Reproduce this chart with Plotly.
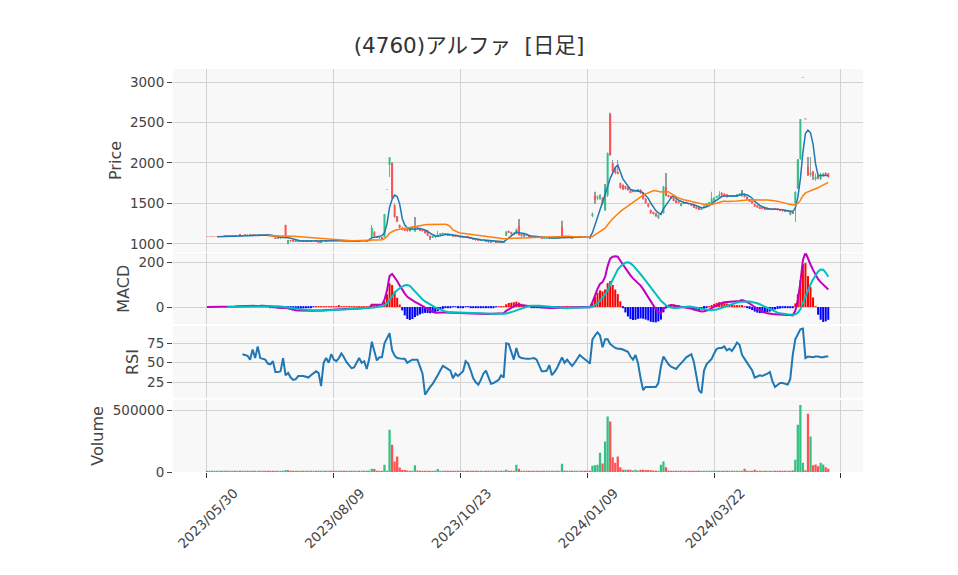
import pandas as pd
import plotly.graph_objects as go
from plotly.subplots import make_subplots

title_text = "(4760)アルファ  [日足]"
tick_pos = [0, 50, 100, 150, 200, 250]
tick_labels = ["2023/05/30", "2023/08/09", "2023/10/23", "2024/01/09", "2024/03/22", ""]

# daily prices (one value per trading day)
opens = [
    1090, 1090, 1090, 1090, 1090, 1090, 1095, 1092, 1100, 1096,
    1100, 1105, 1100, 1117, 1100, 1104, 1110, 1106, 1114, 1105,
    1107, 1118, 1115, 1120, 1112, 1104, 1100, 1082, 1066, 1075,
    1080, 1235, 1022, 1046, 1040, 1034, 1038, 1036, 1040, 1035,
    1038, 1034, 1040, 1042, 1036, 1022, 1040, 1045, 1038, 1046,
    1042, 1040, 1044, 1048, 1042, 1040, 1032, 1034, 1030, 1036,
    1042, 1038, 1044, 1040, 1040, 1075, 1150, 1090, 1080, 1075,
    1085, 1670, 1975, 2000, 1480, 1337, 1235, 1200, 1180, 1185,
    1160, 1200, 1160, 1205, 1185, 1170, 1160, 1170, 1100, 1080,
    1090, 1095, 1115, 1125, 1130, 1122, 1110, 1105, 1100, 1095,
    1090, 1085, 1092, 1088, 1080, 1065, 1060, 1050, 1040, 1045,
    1048, 1030, 1025, 1028, 1030, 1022, 1026, 1020, 1100, 1160,
    1145, 1120, 1123, 1222, 1111, 1100, 1112, 1105, 1095, 1080,
    1085, 1078, 1082, 1070, 1075, 1080, 1065, 1072, 1078, 1075,
    1214, 1095, 1080, 1085, 1078, 1075, 1082, 1080, 1095, 1088,
    1082, 1078, 1345, 1593, 1560, 1580, 1570, 1420, 1600, 2600,
    2000, 1938, 1890, 1753, 1729, 1716, 1700, 1660, 1660, 1645,
    1650, 1670, 1626, 1560, 1500, 1420, 1390, 1380, 1317, 1360,
    1379, 1704, 1600, 1585, 1570, 1530, 1520, 1470, 1505, 1510,
    1500, 1485, 1475, 1460, 1450, 1430, 1450, 1470, 1500, 1510,
    1530, 1575, 1590, 1634, 1620, 1610, 1600, 1590, 1600, 1590,
    1600, 1590, 1620, 1580, 1545, 1520, 1494, 1480, 1460, 1455,
    1450, 1445, 1435, 1420, 1440, 1440, 1430, 1425, 1420, 1400,
    1360, 1395, 1506, 1690, 2050, 3050, 2542, 1951, 1860, 1889,
    1800, 1830, 1800, 1850, 1870, 1870,
]
highs = [
    1090, 1090, 1090, 1090, 1090, 1098, 1097, 1102, 1101, 1102,
    1108, 1106, 1110, 1120, 1106, 1112, 1112, 1114, 1116, 1112,
    1120, 1120, 1122, 1121, 1114, 1106, 1102, 1085, 1078, 1082,
    1088, 1238, 1050, 1048, 1042, 1040, 1040, 1042, 1041, 1040,
    1039, 1042, 1044, 1043, 1037, 1042, 1047, 1046, 1048, 1047,
    1044, 1045, 1050, 1049, 1043, 1041, 1036, 1035, 1038, 1044,
    1043, 1046, 1045, 1041, 1072, 1235, 1160, 1098, 1088, 1080,
    1370, 1670, 2075, 2010, 1500, 1345, 1240, 1215, 1190, 1190,
    1210, 1212, 1333, 1210, 1190, 1175, 1165, 1175, 1105, 1095,
    1100, 1160, 1135, 1140, 1135, 1125, 1115, 1108, 1103, 1098,
    1093, 1096, 1094, 1090, 1082, 1068, 1063, 1052, 1047, 1050,
    1050, 1032, 1030, 1032, 1031, 1028, 1027, 1032, 1160, 1170,
    1150, 1140, 1190, 1308, 1115, 1118, 1115, 1108, 1098, 1088,
    1087, 1085, 1084, 1078, 1082, 1081, 1074, 1080, 1079, 1083,
    1288, 1100, 1087, 1086, 1080, 1084, 1092, 1100, 1096, 1090,
    1084, 1080, 1387, 1646, 1600, 1610, 1580, 1740, 2129, 2622,
    2037, 1950, 2037, 1760, 1735, 1720, 1705, 1665, 1668, 1670,
    1680, 1675, 1630, 1565, 1505, 1425, 1400, 1385, 1365, 1385,
    1720, 1877, 1610, 1595, 1580, 1545, 1530, 1505, 1530, 1525,
    1505, 1490, 1480, 1465, 1455, 1455, 1475, 1505, 1515, 1646,
    1575, 1595, 1650, 1640, 1625, 1615, 1605, 1605, 1605, 1615,
    1625, 1667, 1625, 1585, 1550, 1525, 1500, 1485, 1465, 1460,
    1455, 1450, 1440, 1445, 1445, 1442, 1432, 1428, 1422, 1420,
    1400, 1400, 1650, 2050, 2542, 3050, 2542, 2074, 2074, 1900,
    1870, 1850, 1880, 1880, 1890, 1880,
]
lows = [
    1090, 1090, 1090, 1090, 1090, 1088, 1090, 1090, 1094, 1095,
    1098, 1098, 1099, 1098, 1098, 1102, 1104, 1105, 1103, 1104,
    1105, 1112, 1113, 1110, 1100, 1098, 1092, 1062, 1064, 1072,
    1078, 1095, 996, 1036, 1030, 1030, 1033, 1034, 1033, 1034,
    1032, 1033, 1038, 1034, 1020, 1020, 1038, 1036, 1037, 1040,
    1038, 1039, 1043, 1040, 1036, 1030, 1030, 1028, 1029, 1035,
    1036, 1037, 1038, 1032, 1038, 1060, 1080, 1075, 1070, 1065,
    1080, 1670, 1827, 1560, 1320, 1270, 1190, 1170, 1160, 1150,
    1155, 1180, 1150, 1175, 1165, 1150, 1130, 1095, 1050, 1075,
    1085, 1090, 1110, 1118, 1115, 1105, 1100, 1097, 1092, 1087,
    1082, 1084, 1085, 1078, 1062, 1057, 1047, 1037, 1038, 1043,
    1028, 1022, 1023, 1026, 1016, 1018, 1015, 1018, 1098, 1135,
    1110, 1115, 1120, 1105, 1095, 1098, 1100, 1092, 1078, 1078,
    1075, 1076, 1068, 1068, 1073, 1062, 1063, 1070, 1072, 1073,
    1085, 1075, 1078, 1076, 1073, 1074, 1080, 1075, 1086, 1080,
    1076, 1073, 1330, 1494, 1540, 1550, 1480, 1410, 1580, 2090,
    1880, 1860, 1860, 1680, 1665, 1670, 1660, 1635, 1638, 1640,
    1645, 1620, 1550, 1495, 1450, 1370, 1360, 1335, 1310, 1355,
    1375, 1590, 1575, 1560, 1525, 1510, 1500, 1465, 1495, 1495,
    1490, 1465, 1445, 1435, 1425, 1425, 1445, 1465, 1495, 1505,
    1525, 1565, 1585, 1595, 1585, 1575, 1580, 1585, 1585, 1585,
    1595, 1585, 1575, 1545, 1520, 1505, 1455, 1445, 1435, 1435,
    1425, 1425, 1420, 1415, 1430, 1415, 1410, 1405, 1395, 1398,
    1355, 1370, 1272, 1680, 2040, 3050, 2542, 1840, 1830, 1790,
    1780, 1800, 1790, 1830, 1840, 1810,
]
closes = [
    1090, 1090, 1090, 1090, 1090, 1095, 1092, 1100, 1096, 1100,
    1105, 1100, 1108, 1100, 1104, 1110, 1106, 1112, 1105, 1110,
    1118, 1115, 1120, 1112, 1104, 1100, 1094, 1066, 1075, 1080,
    1085, 1100, 1046, 1040, 1034, 1038, 1036, 1040, 1035, 1038,
    1034, 1040, 1042, 1036, 1022, 1040, 1045, 1038, 1046, 1042,
    1040, 1044, 1048, 1042, 1038, 1032, 1034, 1030, 1036, 1042,
    1038, 1044, 1040, 1034, 1060, 1200, 1090, 1080, 1075, 1070,
    1370, 1670, 2070, 1580, 1333, 1280, 1200, 1180, 1170, 1160,
    1200, 1190, 1205, 1185, 1170, 1160, 1140, 1100, 1080, 1090,
    1095, 1115, 1125, 1130, 1122, 1110, 1105, 1100, 1095, 1090,
    1085, 1092, 1088, 1080, 1065, 1060, 1050, 1040, 1045, 1048,
    1030, 1025, 1028, 1030, 1022, 1026, 1020, 1030, 1155, 1145,
    1120, 1135, 1181, 1111, 1100, 1112, 1105, 1095, 1080, 1085,
    1078, 1082, 1070, 1075, 1080, 1065, 1072, 1078, 1075, 1080,
    1090, 1080, 1085, 1078, 1075, 1082, 1090, 1095, 1088, 1082,
    1078, 1075, 1375, 1543, 1585, 1600, 1500, 1729, 2124, 2099,
    1900, 1877, 1870, 1692, 1680, 1680, 1667, 1640, 1645, 1660,
    1670, 1626, 1560, 1502, 1460, 1380, 1375, 1345, 1360, 1379,
    1708, 1600, 1585, 1570, 1530, 1515, 1510, 1500, 1510, 1500,
    1495, 1470, 1450, 1440, 1430, 1450, 1470, 1500, 1510, 1560,
    1568, 1590, 1610, 1600, 1590, 1580, 1585, 1600, 1590, 1610,
    1620, 1660, 1580, 1550, 1525, 1510, 1460, 1450, 1440, 1440,
    1430, 1430, 1425, 1440, 1435, 1420, 1415, 1410, 1400, 1415,
    1395, 1380, 1642, 2042, 2542, 3050, 2542, 1852, 1880, 1840,
    1830, 1815, 1860, 1870, 1860, 1830,
]
volumes = [
    3000, 2000, 4000, 2000, 3000, 6000, 4000, 8000, 5000, 3000,
    7000, 4000, 6000, 9000, 5000, 4000, 3000, 6000, 8000, 5000,
    9000, 6000, 4000, 7000, 8000, 5000, 4000, 9000, 6000, 5000,
    7000, 17000, 14000, 6000, 5000, 4000, 6000, 3000, 5000, 4000,
    6000, 5000, 4000, 3000, 9000, 7000, 5000, 4000, 6000, 3000,
    4000, 5000, 6000, 4000, 3000, 8000, 5000, 4000, 6000, 5000,
    4000, 6000, 5000, 7000, 12000, 27000, 25000, 6000, 5000, 8000,
    59000, 10000, 343000, 222000, 86000, 127000, 37000, 16000, 16000, 12000,
    10000, 8000, 54000, 12000, 8000, 6000, 7000, 9000, 8000, 5000,
    6000, 24000, 9000, 7000, 6000, 5000, 4000, 6000, 5000, 4000,
    5000, 7000, 4000, 6000, 8000, 5000, 6000, 7000, 4000, 5000,
    8000, 6000, 4000, 5000, 7000, 5000, 6000, 8000, 19000, 9000,
    8000, 7000, 59000, 27000, 9000, 8000, 6000, 7000, 9000, 6000,
    5000, 6000, 8000, 5000, 6000, 9000, 6000, 5000, 4000, 6000,
    67000, 12000, 6000, 5000, 4000, 6000, 8000, 10000, 6000, 5000,
    6000, 7000, 51000, 54000, 59000, 157000, 70000, 248000, 451000, 411000,
    119000, 75000, 127000, 38000, 19000, 19000, 19000, 19000, 12000, 19000,
    12000, 19000, 19000, 17000, 16000, 15000, 12000, 10000, 9000, 59000,
    86000, 38000, 12000, 9000, 8000, 7000, 9000, 8000, 7000, 6000,
    8000, 9000, 7000, 8000, 6000, 9000, 8000, 10000, 9000, 8000,
    7000, 9000, 8000, 6000, 7000, 8000, 6000, 7000, 9000, 8000,
    7000, 9000, 27000, 9000, 8000, 10000, 19000, 9000, 8000, 7000,
    8000, 9000, 7000, 8000, 6000, 7000, 8000, 9000, 10000, 8000,
    9000, 12000, 100000, 384000, 546000, 75000, 15000, 473000, 289000, 54000,
    62000, 46000, 75000, 62000, 38000, 27000,
]
# RSI(14) as drawn, from the 15th trading day on
rsi_values = [
    61, 60, 59, 54, 67, 56, 71, 56, 55, 54,
    49, 48, 52, 38, 38, 39, 56, 34, 37, 31,
    28, 29, 33, 33, 33, 32, 31, 34, 36, 39,
    37, 20, 50, 56, 50, 61, 54, 52, 56, 62,
    57, 51, 47, 43, 44, 50, 56, 50, 52, 42,
    55, 77, 64, 53, 57, 57, 75, 82, 88, 66,
    59, 56, 55, 55, 55, 50, 52, 54, 54, 54,
    45, 36, 9, 15, 19, 23, 28, 34, 40, 46,
    44, 42, 40, 30, 36, 33, 36, 39, 52, 49,
    40, 30, 25, 22, 28, 36, 40, 32, 23, 24,
    26, 28, 34, 31, 75, 74, 64, 54, 69, 58,
    56, 55, 55, 55, 56, 56, 54, 47, 39, 39,
    40, 47, 34, 38, 43, 50, 57, 50, 54, 50,
    46, 50, 55, 60, 57, 55, 52, 49, 80, 85,
    89, 85, 70, 80, 80, 74, 71, 69, 68, 68,
    67, 66, 64, 58, 54, 60, 49, 30, 15, 19,
    19, 19, 19, 19, 24, 45, 58, 52, 48, 45,
    44, 42, 46, 49, 53, 57, 59, 61, 51, 30,
    15, 11, 40, 48, 51, 55, 62, 68, 69, 69,
    71, 66, 68, 65, 70, 76, 73, 60, 55, 50,
    45, 40, 31, 33, 34, 33, 34, 36, 38, 26,
    19, 22, 24, 24, 23, 22, 29, 60, 80, 86,
    93, 94, 56, 58, 57, 57, 58, 58, 57, 57,
    58, 58,
]

df = pd.DataFrame({"open": opens, "high": highs, "low": lows,
                   "close": closes, "volume": volumes})
df["rsi"] = [None] * (len(df) - len(rsi_values)) + rsi_values
df["ma5"] = df["close"].rolling(5).mean()
df["ma25"] = df["close"].rolling(25).mean()
ema12 = df["close"].ewm(span=12, adjust=False).mean()
ema26 = df["close"].ewm(span=26, adjust=False).mean()
df["macd"] = ema12 - ema26
df["signal"] = df["macd"].rolling(9).mean()
df["macd_hist"] = df["macd"] - df["signal"]
x = list(range(len(df)))

UP, DOWN, FLAT, WICK = "#34c185", "#ff5353", "#f6a3a3", "#9a9a9a"
body_col = [UP if c > o else DOWN if c < o else FLAT for o, c in zip(df["open"], df["close"])]
body_base = [min(o, c) for o, c in zip(df["open"], df["close"])]
body_h = [max(abs(c - o), 2) for o, c in zip(df["open"], df["close"])]
wick_h = [(h - l) if h > l else None for h, l in zip(df["high"], df["low"])]
diff = df["close"].diff().fillna(0)
vol_col = [DOWN if d < 0 else UP for d in diff]
hist_col = ["red" if h > 0 else "blue" for h in df["macd_hist"].fillna(0)]

fig = make_subplots(rows=4, cols=1, shared_xaxes=True, vertical_spacing=0.005,
                    row_heights=[0.46, 0.18, 0.18, 0.18])

fig.add_trace(go.Bar(x=x, y=wick_h, base=df["low"], width=0.15,
                     marker=dict(color=WICK, line=dict(width=0))), row=1, col=1)
fig.add_trace(go.Bar(x=x, y=body_h, base=body_base, width=0.8,
                     marker=dict(color=body_col, line=dict(width=0))), row=1, col=1)
fig.add_trace(go.Scatter(x=x, y=df["ma5"], mode="lines",
                         line=dict(color="#1f77b4", width=1.5)), row=1, col=1)
fig.add_trace(go.Scatter(x=x, y=df["ma25"], mode="lines",
                         line=dict(color="#ff7f0e", width=1.5)), row=1, col=1)

fig.add_trace(go.Bar(x=x, y=df["macd_hist"], width=0.8,
                     marker=dict(color=hist_col, line=dict(width=0))), row=2, col=1)
fig.add_trace(go.Scatter(x=x, y=df["macd"], mode="lines",
                         line=dict(color="#bf00bf", width=2)), row=2, col=1)
fig.add_trace(go.Scatter(x=x, y=df["signal"], mode="lines",
                         line=dict(color="#00bfbf", width=2)), row=2, col=1)

fig.add_trace(go.Scatter(x=x, y=df["rsi"], mode="lines",
                         line=dict(color="#1f77b4", width=2)), row=3, col=1)

fig.add_trace(go.Bar(x=x, y=df["volume"], width=0.9,
                     marker=dict(color=vol_col, line=dict(width=0))), row=4, col=1)

fig.update_layout(
    width=950, height=567,
    margin=dict(l=165, r=95, t=61, b=103),
    paper_bgcolor="white", plot_bgcolor="#f8f8f8",
    showlegend=False, barmode="overlay",
    font=dict(family='"DejaVu Sans", "Noto Sans CJK JP", sans-serif', size=13.5, color="#444"),
    title=dict(text=title_text, x=0.4853, xanchor="center", y=0.9347, yanchor="middle",
               font=dict(size=21.5, color="#333")),
    yaxis=dict(domain=[0.546, 1.0], range=[901, 3161], dtick=500,
               title=dict(text="Price", standoff=4)),
    yaxis2=dict(domain=[0.367, 0.543], range=[-76, 240], dtick=200,
                title=dict(text="MACD", standoff=4)),
    yaxis3=dict(domain=[0.184, 0.362], range=[5, 97], dtick=25,
                title=dict(text="RSI", standoff=4)),
    yaxis4=dict(domain=[0.0, 0.179], range=[0, 587000], dtick=500000,
                tickformat="d", title=dict(text="Volume", standoff=5)),
)
fig.update_xaxes(range=[-13.4, 258.7], tickvals=tick_pos, ticktext=tick_labels,
                 showgrid=True, gridcolor="#d2d2d2", zeroline=False, tickangle=-45, ticks="")
fig.update_xaxes(ticks="outside", ticklen=5, tickcolor="#333",
                 ticklabelshift=27, ticklabelstandoff=2, row=4, col=1)
fig.update_yaxes(showgrid=True, gridcolor="#d2d2d2", zeroline=False,
                 ticks="outside", ticklen=5, tickcolor="#444")

fig.write_html("out.html")
